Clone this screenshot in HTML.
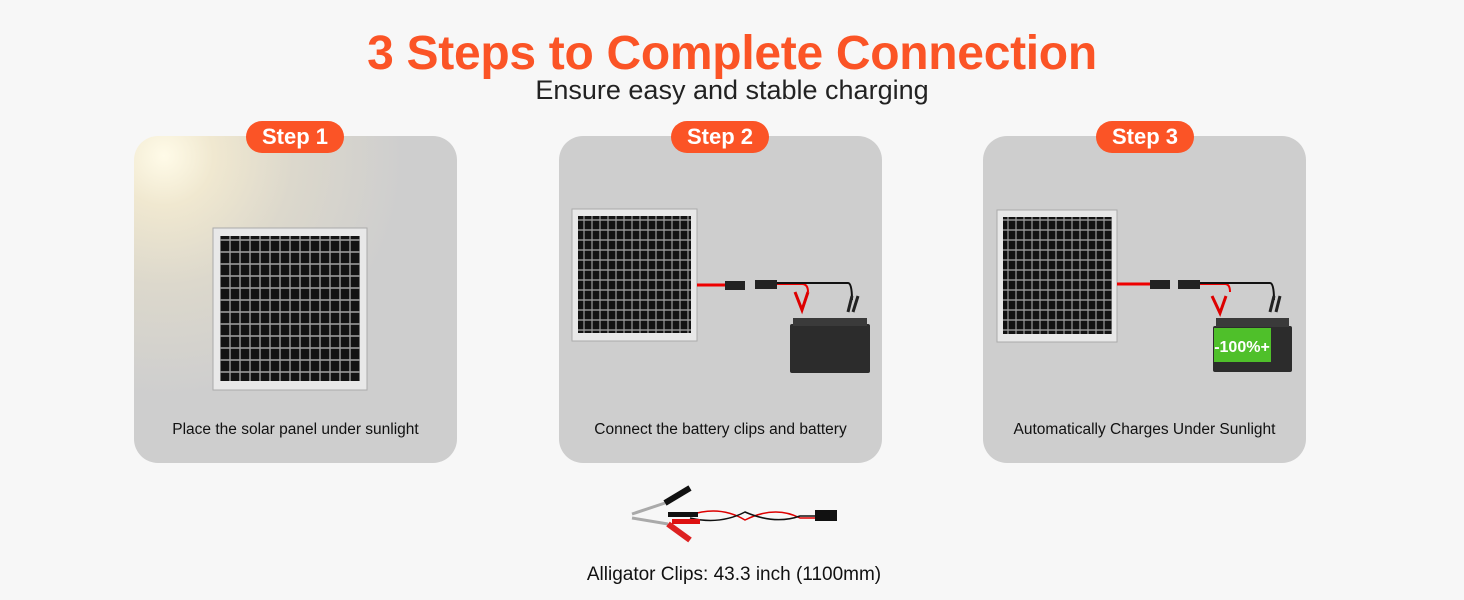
<!DOCTYPE html>
<html><head><meta charset="utf-8"><style>
body{margin:0;width:1464px;height:600px;background:#f7f7f7;font-family:"Liberation Sans",sans-serif;position:relative;overflow:hidden}
.t{position:absolute;left:0;width:1464px;text-align:center}
.card{position:absolute;top:136px;width:323px;height:327px;border-radius:24px;background:#cecece}
.pill{position:absolute;top:121px;width:98px;height:32px;border-radius:16px;background:#fb5426;color:#fff;font-size:22px;font-weight:bold;text-align:center;line-height:32px}
.cap{position:absolute;top:421px;width:323px;text-align:center;font-size:15.5px;color:#111}
svg{position:absolute;left:0;top:0}
</style></head><body>
<div class="t" style="top:26px;font-size:48px;font-weight:bold;color:#fb5426;letter-spacing:-0.3px">3 Steps to Complete Connection</div>
<div class="t" style="top:75px;font-size:27px;color:#222">Ensure easy and stable charging</div>

<div class="card" style="left:134px;background:radial-gradient(circle at 30px 20px,#fffbe8 0,#f0e8d0 50px,#dcd8cc 130px,#cecece 240px)"></div>
<div class="card" style="left:559px"></div>
<div class="card" style="left:983px"></div>
<div class="pill" style="left:246px">Step 1</div>
<div class="pill" style="left:671px">Step 2</div>
<div class="pill" style="left:1096px">Step 3</div>
<div class="cap" style="left:134px">Place the solar panel under sunlight</div>
<div class="cap" style="left:559px">Connect the battery clips and battery</div>
<div class="cap" style="left:983px">Automatically Charges Under Sunlight</div>

<svg width="1464" height="600">
<defs>
<pattern id="cell" width="10" height="12" patternUnits="userSpaceOnUse"><rect width="10" height="12" fill="#9a9a9a"/><rect x="0.7" y="0.8" width="8.6" height="10.4" fill="#121212"/></pattern>
<pattern id="cell2" width="8" height="10" patternUnits="userSpaceOnUse"><rect width="8" height="10" fill="#9a9a9a"/><rect x="0.6" y="0.7" width="6.8" height="8.6" fill="#121212"/></pattern>
</defs>
<rect x="213" y="228" width="154" height="162" fill="#e8e8e8" stroke="#aaa"/>
<rect x="220" y="236" width="140" height="145" fill="url(#cell)"/>
<rect x="572" y="209" width="125" height="132" fill="#e8e8e8" stroke="#aaa"/>
<rect x="578" y="216" width="113" height="117" fill="url(#cell2)"/>
<rect x="997" y="210" width="120" height="132" fill="#e8e8e8" stroke="#aaa"/>
<rect x="1003" y="217" width="109" height="117" fill="url(#cell2)"/>

<path d="M697 285 H725" stroke="#e00" stroke-width="3"/>
<rect x="725" y="281" width="20" height="9" fill="#222"/>
<rect x="755" y="280" width="22" height="9" fill="#222"/>
<path d="M777 284 H802 Q808 284 808 292" stroke="#e00" stroke-width="2" fill="none"/>
<path d="M777 283 H848 Q852 283 852 300" stroke="#111" stroke-width="2" fill="none"/>
<path d="M795 292 L802 310 L808 292" stroke="#d00" stroke-width="3" fill="none"/>
<path d="M852 296 L848 312 M858 296 L853 312" stroke="#222" stroke-width="3"/>
<rect x="790" y="324" width="80" height="49" rx="2" fill="#2c2c2c"/>
<rect x="793" y="318" width="74" height="8" fill="#3a3a3a"/>
<path d="M1117 284 H1150" stroke="#e00" stroke-width="3"/>
<rect x="1150" y="280" width="20" height="9" fill="#222"/>
<rect x="1178" y="280" width="22" height="9" fill="#222"/>
<path d="M1200 284 H1225 Q1230 284 1230 292" stroke="#e00" stroke-width="2" fill="none"/>
<path d="M1200 283 H1270 Q1274 283 1274 300" stroke="#111" stroke-width="2" fill="none"/>
<path d="M1212 296 L1220 313 L1226 296" stroke="#d00" stroke-width="3" fill="none"/>
<path d="M1274 296 L1270 312 M1280 296 L1276 312" stroke="#222" stroke-width="3"/>
<rect x="1213" y="326" width="79" height="46" rx="2" fill="#2c2c2c"/>
<rect x="1216" y="318" width="73" height="9" fill="#3a3a3a"/>
<rect x="1214" y="328" width="57" height="34" fill="#4fc02a"/>
<text x="1242" y="352" font-family="Liberation Sans" font-size="16" font-weight="bold" fill="#fff" text-anchor="middle">-100%+</text>

<path d="M690 515 Q720 505 745 520 Q775 505 800 518 H815" stroke="#d00" stroke-width="1.5" fill="none"/>
<path d="M690 518 Q720 525 745 512 Q775 525 800 516 H815" stroke="#111" stroke-width="1.5" fill="none"/>
<rect x="815" y="510" width="22" height="11" fill="#111"/>
<path d="M632 514 L665 503 M632 518 L668 524" stroke="#aaa" stroke-width="3"/>
<path d="M665 503 L690 488" stroke="#111" stroke-width="6"/>
<path d="M668 524 L690 540" stroke="#d22" stroke-width="6"/>
<rect x="668" y="512" width="30" height="5" fill="#111"/>
<rect x="672" y="519" width="28" height="5" fill="#d11"/>
</svg>
<div class="t" style="top:564px;font-size:19px;color:#111;left:2px">Alligator Clips: 43.3 inch (1100mm)</div>
</body></html>
